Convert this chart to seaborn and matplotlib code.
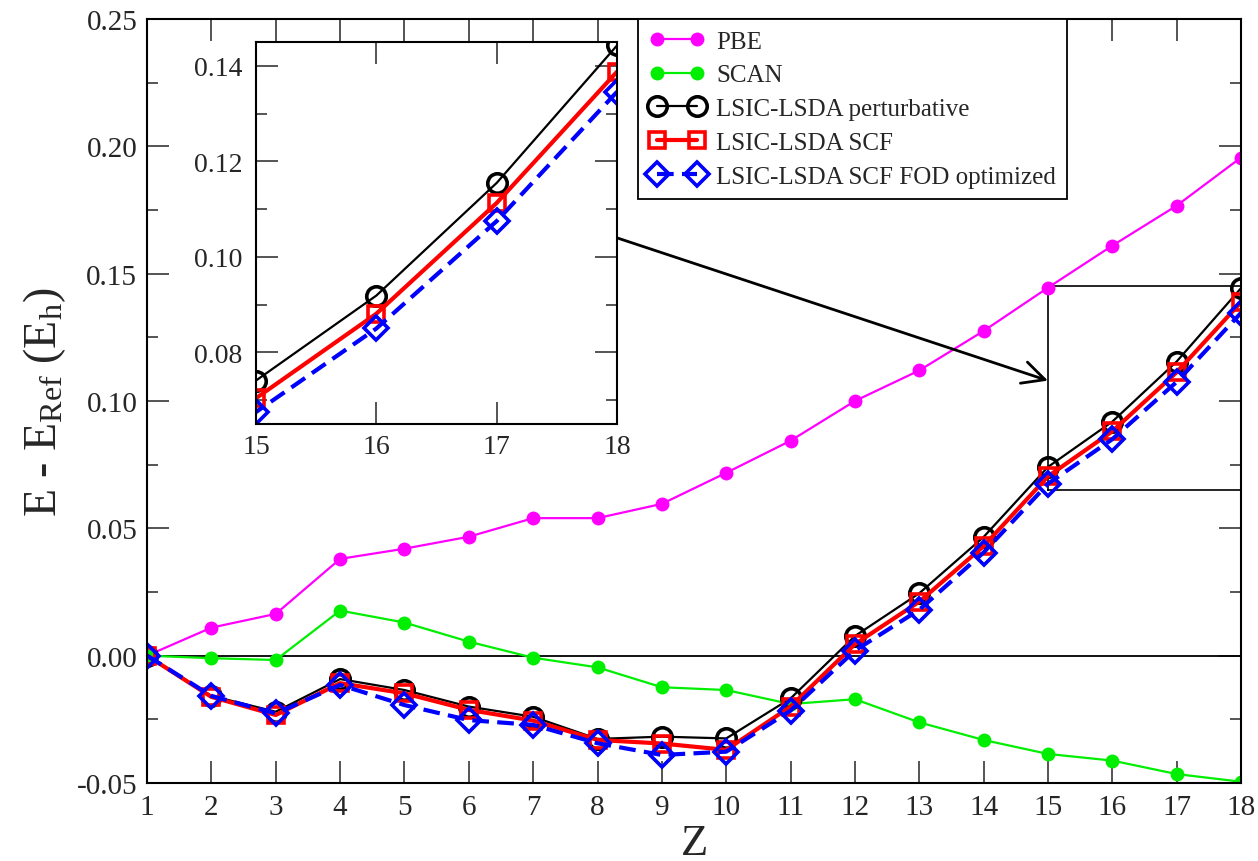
import seaborn as sns
import matplotlib.pyplot as plt
import pandas as pd
from matplotlib.ticker import MultipleLocator, FormatStrFormatter

# Data
z = list(range(1, 19))
pbe = [0.0, 0.011, 0.0164, 0.038, 0.042, 0.0467, 0.054, 0.054, 0.0596,
       0.0718, 0.0844, 0.100, 0.112, 0.1275, 0.1445, 0.161, 0.1767, 0.1956]
scan = [0.0, -0.001, -0.0017, 0.0177, 0.013, 0.0055, -0.0008, -0.0046, -0.0124,
        -0.0135, -0.019, -0.0171, -0.0262, -0.0331, -0.0386, -0.0412, -0.0465, -0.0495]
lsic_pert = [0.0, -0.0158, -0.022, -0.0092, -0.0135, -0.020, -0.024, -0.0327, -0.0318,
             -0.0325, -0.0168, 0.0077, 0.0245, 0.0466, 0.0741, 0.0919, 0.1155, 0.1443]
lsic_scf = [0.0, -0.0162, -0.0233, -0.0108, -0.0148, -0.0213, -0.0255, -0.0331, -0.0345,
            -0.037, -0.020, 0.0045, 0.0212, 0.043, 0.0704, 0.0881, 0.1113, 0.1388]
lsic_fod = [0.0, -0.0158, -0.0227, -0.0115, -0.0194, -0.0253, -0.0272, -0.0344, -0.039,
            -0.0377, -0.0216, 0.002, 0.018, 0.0405, 0.0675, 0.085, 0.1075, 0.1346]

df = pd.DataFrame({'Z': z, 'PBE': pbe, 'SCAN': scan, 'pert': lsic_pert,
                   'scf': lsic_scf, 'fod': lsic_fod})

sns.set_style("ticks")
plt.rcParams['font.family'] = ['Liberation Serif', 'DejaVu Serif']
plt.rcParams['mathtext.fontset'] = 'custom'
plt.rcParams['mathtext.rm'] = 'Liberation Serif'
plt.rcParams['mathtext.it'] = 'Liberation Serif:italic'

fig = plt.figure(figsize=(12.58, 8.62), dpi=100)
ax = fig.add_axes([0.1169, 0.0905, 0.8696, 0.8863])
ins = fig.add_axes([0.2035, 0.507, 0.287, 0.443])


def style_axes(a, size):
    a.set_xlabel('')
    a.set_ylabel('')
    a.tick_params(which='both', direction='in', top=True, right=True,
                  width=1.1, labelsize=size)
    a.tick_params(which='major', length=16)
    a.tick_params(which='minor', length=8)
    for s in a.spines.values():
        s.set_linewidth(1.5)
        s.set_color('black')


def draw_lsic(a, legend):
    sns.lineplot(data=df, x='Z', y='pert', ax=a, color='black', lw=1.6,
                 marker='o', markersize=14, markerfacecolor='none',
                 markeredgecolor='black', markeredgewidth=2.6,
                 label='LSIC-LSDA perturbative' if legend else None)
    sns.lineplot(data=df, x='Z', y='scf', ax=a, color='red', lw=3,
                 marker='s', markersize=12, markerfacecolor='none',
                 markeredgecolor='red', markeredgewidth=2.6,
                 label='LSIC-LSDA SCF' if legend else None)
    sns.lineplot(data=df, x='Z', y='fod', ax=a, color='blue', lw=3,
                 linestyle=(0, (4, 2)), marker='D', markersize=12,
                 markerfacecolor='none', markeredgecolor='blue',
                 markeredgewidth=2.6,
                 label='LSIC-LSDA SCF FOD optimized' if legend else None)


ax.axhline(0, color='black', lw=1.3, zorder=1)
sns.lineplot(data=df, x='Z', y='PBE', ax=ax, color='magenta', lw=1.6,
             marker='o', markersize=10, markeredgecolor='magenta',
             markeredgewidth=0, label='PBE')
sns.lineplot(data=df, x='Z', y='SCAN', ax=ax, color='#00ee00', lw=1.6,
             marker='o', markersize=10, markeredgecolor='#00ee00',
             markeredgewidth=0, label='SCAN')
draw_lsic(ax, True)
style_axes(ax, 21)
ax.set_xlim(1, 18)
ax.set_ylim(-0.05, 0.25)
ax.xaxis.set_major_locator(MultipleLocator(1))
ax.yaxis.set_major_locator(MultipleLocator(0.05))
ax.yaxis.set_minor_locator(MultipleLocator(0.025))
ax.yaxis.set_major_formatter(FormatStrFormatter('%.2f'))
ax.tick_params(axis='y', pad=7)
ax.tick_params(axis='x', pad=8)
ax.set_xlabel('Z', fontsize=32, labelpad=2)
ax.set_ylabel(r'E - E$_{\mathrm{Ref}}$ (E$_{\mathrm{h}}$)', fontsize=33, labelpad=6)

# zoom box and arrow
ax.plot([15, 18, 18, 15, 15], [0.065, 0.065, 0.145, 0.145, 0.065],
        color='black', lw=1.2, zorder=1)
ax.annotate('', xy=(15, 0.108), xytext=(8.31, 0.164),
            arrowprops=dict(arrowstyle='->', color='black', lw=2,
                            mutation_scale=40, shrinkA=0, shrinkB=0))

leg = ax.legend(loc='upper right', bbox_to_anchor=(0.841, 1.0),
                borderaxespad=0, fontsize=18, numpoints=2, frameon=True,
                fancybox=False, edgecolor='black', framealpha=1,
                handlelength=2.2, handletextpad=0.45, labelspacing=0.45,
                borderpad=0.45)
leg.get_frame().set_linewidth(1.3)

draw_lsic(ins, False)
style_axes(ins, 20)
ins.set_xlim(15, 18)
ins.set_ylim(0.065, 0.145)
ins.xaxis.set_major_locator(MultipleLocator(1))
ins.yaxis.set_major_locator(MultipleLocator(0.02))
ins.yaxis.set_minor_locator(MultipleLocator(0.01))
ins.yaxis.set_major_formatter(FormatStrFormatter('%.2f'))
ins.tick_params(axis='y', pad=10)
ins.tick_params(axis='x', pad=7)
ins.set_zorder(5)
ins.patch.set_facecolor('white')

fig.savefig('out.png', dpi=100)
